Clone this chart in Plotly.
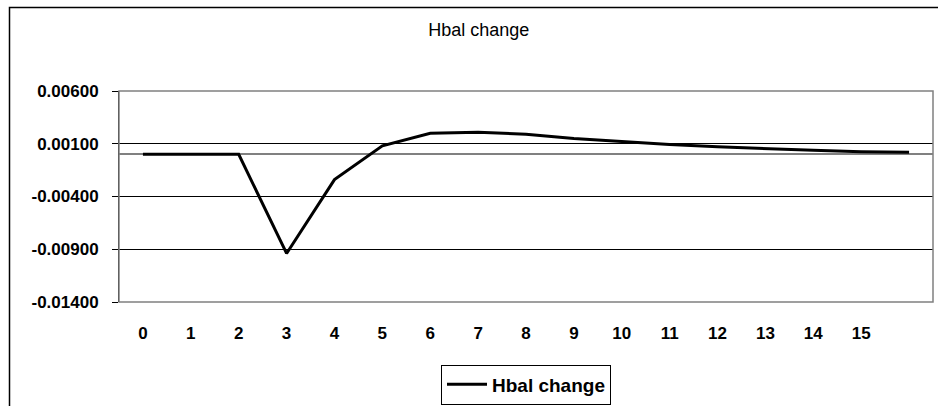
import plotly.graph_objects as go

# Series data
periods = list(range(17))
tick_labels = [str(i) for i in range(16)] + [""]
hbal_change = [0.0, 0.0, 0.0, -0.0094, -0.0024, 0.0008, 0.0020, 0.0021, 0.0019,
               0.0015, 0.0012, 0.00093, 0.00071, 0.00052, 0.00039, 0.00025, 0.0002]
y_ticks = [-0.014, -0.009, -0.004, 0.001, 0.006]
y_tick_text = [f"{v:.5f}" for v in y_ticks]  # plain hyphen for negatives

W, H = 938, 406
L, R, T, B = 119, 933, 91, 302  # plot area edges in pixels
pw, ph = R - L, B - T


def px_x(x):
    return (x - L) / pw


def px_y(y):
    return (B - y) / ph


FONT = "Arial, Liberation Sans, sans-serif"

fig = go.Figure()
fig.add_trace(go.Scatter(
    x=periods, y=hbal_change, mode="lines", name="Hbal change",
    line=dict(color="black", width=3),
))

fig.update_layout(
    width=W, height=H,
    margin=dict(l=L, r=W - R, t=T, b=H - B, pad=0, autoexpand=False),
    paper_bgcolor="white", plot_bgcolor="white",
    font=dict(family=FONT, color="black", size=17),
    title=dict(text="Hbal change", x=478.7 / W, xanchor="center",
               y=1 - 29.5 / H, yanchor="middle", xref="container", yref="container",
               font=dict(family=FONT, size=18, color="black")),
    showlegend=True,
    legend=dict(x=0.5, xanchor="center", y=px_y(384.5), yanchor="middle",
                bgcolor="white", bordercolor="black", borderwidth=1,
                itemwidth=40,
                font=dict(family=FONT, size=19, color="black", weight="bold")),
    xaxis=dict(
        range=[-0.5, 16.5], tickmode="array", tickvals=periods, ticktext=tick_labels,
        showgrid=False, zeroline=False, showline=False, ticks="",
        ticklabelstandoff=19, automargin=False,
        tickfont=dict(family=FONT, size=17, color="black", weight="bold"),
    ),
    yaxis=dict(
        range=[-0.014, 0.006], tickmode="array", tickvals=y_ticks, ticktext=y_tick_text,
        showgrid=True, gridcolor="black", gridwidth=1,
        zeroline=True, zerolinecolor="#808080", zerolinewidth=2,
        showline=True, linecolor="black", linewidth=1,
        ticks="outside", ticklen=6, tickcolor="black", tickwidth=1,
        ticklabelstandoff=10, automargin=False,
        tickfont=dict(family=FONT, size=17, color="black", weight="bold"),
    ),
    shapes=[
        # plot area border
        dict(type="rect", xref="paper", yref="paper", x0=0, x1=1, y0=0, y1=1,
             line=dict(color="#808080", width=1.5), layer="above"),
        # outer chart frame (extends past the right and bottom edges)
        dict(type="rect", xref="paper", yref="paper",
             x0=px_x(9.5), x1=px_x(960), y0=px_y(430), y1=px_y(7.5),
             line=dict(color="black", width=1.5), layer="above"),
    ],
)

fig.write_html("out.html")
